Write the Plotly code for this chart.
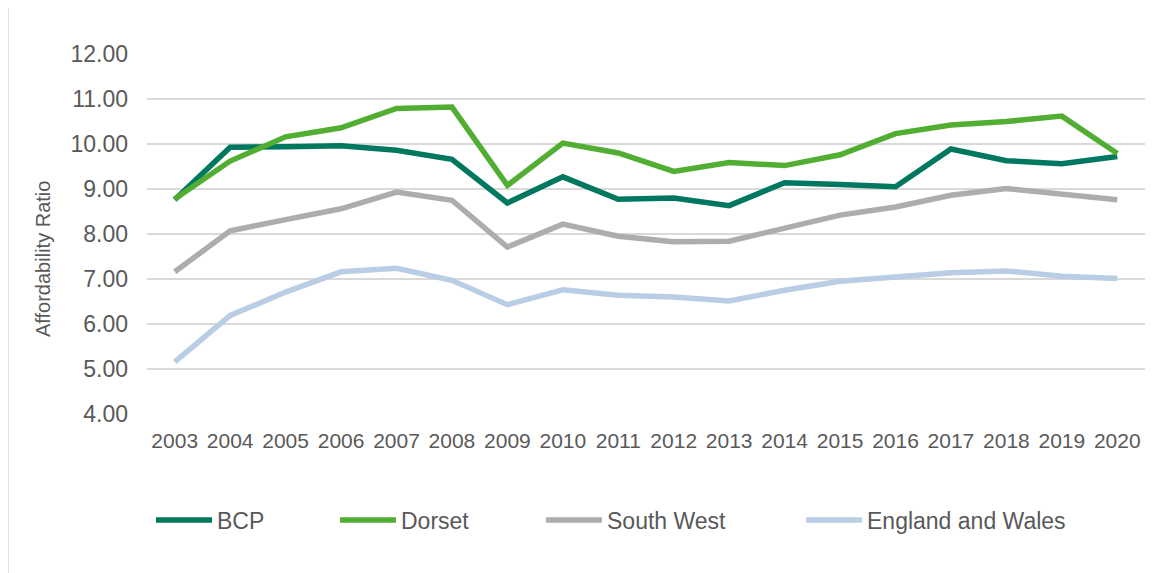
import plotly.graph_objects as go

years = [str(y) for y in range(2003, 2021)]
bcp = [8.76, 9.93, 9.94, 9.96, 9.86, 9.66, 8.69, 9.27, 8.77, 8.80, 8.63, 9.14, 9.10, 9.05, 9.89, 9.63, 9.56, 9.72]
dorset = [8.78, 9.62, 10.16, 10.36, 10.79, 10.82, 9.08, 10.02, 9.80, 9.39, 9.59, 9.52, 9.76, 10.23, 10.42, 10.50, 10.62, 9.79]
south_west = [7.16, 8.07, 8.32, 8.56, 8.93, 8.75, 7.71, 8.22, 7.95, 7.83, 7.84, 8.12, 8.42, 8.60, 8.86, 9.01, 8.87, 8.76]
eng_wales = [5.16, 6.19, 6.71, 7.16, 7.24, 6.97, 6.43, 6.76, 6.64, 6.60, 6.51, 6.75, 6.95, 7.04, 7.14, 7.18, 7.06, 7.01]

series = [
    ("BCP", bcp, "#00785F", "legend"),
    ("Dorset", dorset, "#52AE32", "legend2"),
    ("South West", south_west, "#ADADAD", "legend3"),
    ("England and Wales", eng_wales, "#B9CDE5", "legend4"),
]

fig = go.Figure()
for name, vals, color, leg in series:
    fig.add_trace(go.Scatter(x=years, y=vals, name=name, mode="lines",
                             line=dict(color=color, width=5.5), legend=leg))

# page has an 8px body margin, so the figure is shrunk to fit the window
OFF = 8
W, H = 1176 - OFF, 573 - OFF
L, R, T, B = 139, 31, 46, 159
pw, ph = W - L - R, H - T - B

def px(x):  # page pixel -> paper
    return (x - OFF - L) / pw

def py(y):
    return (OFF + H - B - y) / ph

font = "Liberation Sans, Arial, sans-serif"
grey = "#595959"

def leg(x):
    return dict(x=px(x), y=py(520), xanchor="left", yanchor="middle", orientation="h",
                font=dict(family=font, size=23, color=grey), bgcolor="rgba(0,0,0,0)",
                itemwidth=56, tracegroupgap=0)

fig.update_layout(
    width=W, height=H,
    margin=dict(l=L, r=R, t=T, b=B),
    plot_bgcolor="white", paper_bgcolor="white",
    font=dict(family=font, color=grey),
    showlegend=True,
    legend=leg(151), legend2=leg(335), legend3=leg(541), legend4=leg(801),
    xaxis=dict(type="category", range=[-0.5, len(years) - 0.5], showgrid=False,
               showline=False, zeroline=False,
               tickfont=dict(size=21, color=grey), ticks="", ticklabelstandoff=12),
    yaxis=dict(range=[4, 12], dtick=1, tickformat=".2f", showgrid=True,
               gridcolor="#D9D9D9", gridwidth=1.5, zeroline=False, showline=False,
               tickfont=dict(size=23, color=grey), ticks="", ticklabelstandoff=18),
    shapes=[dict(type="rect", xref="paper", yref="paper", x0=px(8), x1=px(1190),
                 y0=py(590), y1=py(5), line=dict(color="#D9D9D9", width=1.5), layer="below")],
    annotations=[dict(text="Affordability Ratio", xref="paper", yref="paper",
                      x=px(43), y=py(259), textangle=-90, showarrow=False,
                      xanchor="center", yanchor="middle",
                      font=dict(family=font, size=20, color=grey))],
)

fig.write_html("out.html")
